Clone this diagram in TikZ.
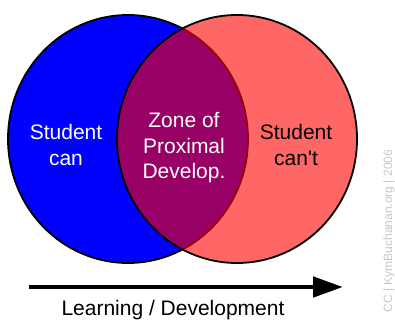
\documentclass[tikz,border=0pt]{standalone}
\usepackage{fontspec}
\setmainfont{Liberation Sans}
\usetikzlibrary{arrows.meta}

\tikzset{
    rim/.style={black,line width=1.8pt},
    big/.style={align=center,inner sep=0pt,font=\fontsize{21}{25.5}\selectfont},
}

\begin{document}
\begin{tikzpicture}[x=1pt,y=-1pt]
    \useasboundingbox (0,0) rectangle (395,320);
    % the two sets, the right one laid over the left
    \fill[blue] (128,139) ellipse [x radius=120,y radius=124];
    \draw[rim] (128,139) ellipse [x radius=120,y radius=124];
    \fill[red,fill opacity=0.6] (237,139) ellipse [x radius=120,y radius=124];
    \draw[rim] (237,139) ellipse [x radius=120,y radius=124];

    \node[big,white] (can) at (66,145) {Student\\can};
    \node[big,white] (zpd) at (184,148) {Zone of\\Proximal\\Develop.};
    \node[big,black] (cant) at (296,145) {Student\\can\textquotesingle t};

    % axis below
    \coordinate (start) at (29,287);
    \coordinate (end) at (343,287);
    \draw[line width=4.8pt,-{Triangle[length=30pt,width=20pt]}] (start) -- (end);
    \node[big,anchor=base] (learn) at (173,315) {Learning / Development};

    \node[rotate=90,gray!45,inner sep=0pt,font=\fontsize{12}{14}\selectfont] (credit) at (389,231) {CC | KymBuchanan.org | 2006};
\end{tikzpicture}
\end{document}
